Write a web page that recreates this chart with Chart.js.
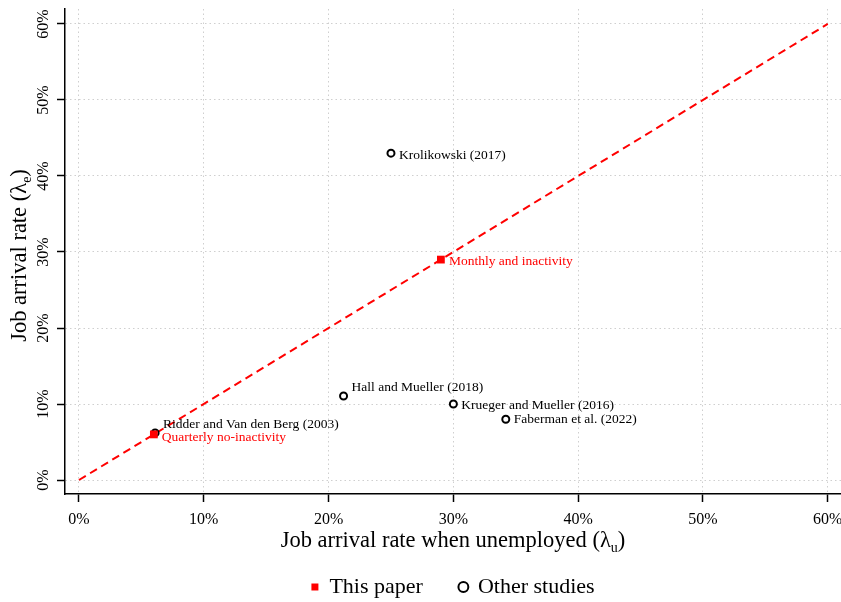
<!DOCTYPE html>
<html>
<head>
<meta charset="utf-8">
<script src="https://cdn.jsdelivr.net/npm/chart.js@4/dist/chart.umd.min.js"></script>
<style>
  html, body { margin: 0; padding: 0; background: #fff; overflow: hidden; }
  #wrap { width: 841px; height: 602px; }
</style>
</head>
<body>
<div id="wrap"><canvas id="chart"></canvas></div>
<script>
// values (percent)
const paperLabels = ['Monthly and inactivity', 'Quarterly no-inactivity'];
const paperX = [29, 6];
const paperY = [29, 6];

const otherLabels = ['Krolikowski (2017)', 'Hall and Mueller (2018)', 'Krueger and Mueller (2016)', 'Faberman et al. (2022)', 'Ridder and Van den Berg (2003)'];
const otherX = [25, 21.2, 30, 34.2, 6.1];
const otherY = [43, 11.05, 10, 8, 6.2];

const diagX = [0, 60];
const diagY = [0, 60];

const tickValues = [0, 10, 20, 30, 40, 50, 60];
const tickLabels = ['0%', '10%', '20%', '30%', '40%', '50%', '60%'];

// vertical nudge of each point label (px)
const paperShift = [2, 3];
const otherShift = [2, -9, 1, 0, -8];

const SERIF = "'Liberation Serif', 'Times New Roman', serif";

const toPoints = (xs, ys) => xs.map((x, i) => ({ x: x, y: ys[i] }));
const setTicks = scale => { scale.ticks = tickValues.map(v => ({ value: v })); };

// text labels next to the markers, tick labels, axis titles with subscripts
const annotations = {
    id: 'annotations',
    afterDatasetsDraw(chart) {
        const ctx = chart.ctx;
        ctx.save();
        ctx.font = '13.5px ' + SERIF;
        ctx.textAlign = 'left';
        ctx.textBaseline = 'middle';
        chart.data.datasets.forEach((ds, di) => {
            if (!ds.pointLabels) return;
            const meta = chart.getDatasetMeta(di);
            ctx.fillStyle = ds.labelColor;
            meta.data.forEach((pt, i) => {
                ctx.fillText(ds.pointLabels[i], pt.x + 8, pt.y + ds.labelShift[i]);
            });
        });
        ctx.restore();
    },
    afterDraw(chart) {
        const ctx = chart.ctx;
        const xs = chart.scales.x;
        const ys = chart.scales.y;
        const area = chart.chartArea;
        ctx.save();
        ctx.fillStyle = '#000';

        ctx.font = '16px ' + SERIF;
        ctx.textAlign = 'center';
        ctx.textBaseline = 'alphabetic';
        // x tick labels
        tickValues.forEach((v, i) => {
            ctx.fillText(tickLabels[i], xs.getPixelForValue(v), area.bottom + 30);
        });
        // y tick labels, rotated
        tickValues.forEach((v, i) => {
            ctx.save();
            ctx.translate(48, ys.getPixelForValue(v));
            ctx.rotate(-Math.PI / 2);
            ctx.fillText(tickLabels[i], 0, 0);
            ctx.restore();
        });

        const drawTitle = (main, sub, close) => {
            const big = '22.5px ' + SERIF;
            const small = '14px ' + SERIF;
            ctx.font = big;
            const w1 = ctx.measureText(main).width;
            const w3 = ctx.measureText(close).width;
            ctx.font = small;
            const w2 = ctx.measureText(sub).width;
            let x = -(w1 + w2 + w3) / 2;
            ctx.textAlign = 'left';
            ctx.font = big;
            ctx.fillText(main, x, 0);
            x += w1;
            ctx.font = small;
            ctx.fillText(sub, x, 5);
            x += w2;
            ctx.font = big;
            ctx.fillText(close, x, 0);
        };

        // x title
        ctx.save();
        ctx.translate((area.left + area.right) / 2, 547);
        drawTitle('Job arrival rate when unemployed (\u03bb', 'u', ')');
        ctx.restore();

        // y title
        ctx.save();
        ctx.translate(26, (area.top + area.bottom) / 2 + 4);
        ctx.rotate(-Math.PI / 2);
        drawTitle('Job arrival rate (\u03bb', 'e', ')');
        ctx.restore();

        ctx.restore();
    }
};

new Chart(document.getElementById('chart'), {
    type: 'scatter',
    data: {
        datasets: [
            {
                label: 'This paper',
                data: toPoints(paperX, paperY),
                pointStyle: 'rect',
                pointRadius: 5.5,
                backgroundColor: '#ff0000',
                borderColor: '#ff0000',
                borderWidth: 0,
                pointLabels: paperLabels,
                labelShift: paperShift,
                labelColor: '#ff0000',
                order: 0
            },
            {
                label: 'Other studies',
                data: toPoints(otherX, otherY),
                pointStyle: 'circle',
                pointRadius: 3.5,
                backgroundColor: '#ffffff',
                borderColor: '#000000',
                borderWidth: 2,
                pointLabels: otherLabels,
                labelShift: otherShift,
                labelColor: '#000000',
                order: 1
            },
            {
                label: '45 degree',
                data: toPoints(diagX, diagY),
                showLine: true,
                pointRadius: 0,
                borderColor: '#ff0000',
                borderWidth: 2,
                borderDash: [8, 5],
                order: 2
            }
        ]
    },
    options: {
        responsive: true,
        maintainAspectRatio: false,
        animation: false,
        layout: { autoPadding: false, padding: { left: 0, right: 0, top: 9, bottom: 0 } },
        scales: {
            x: {
                type: 'linear',
                min: -1.12,
                max: 61.06,
                afterBuildTicks: setTicks,
                afterFit: scale => { scale.height = 45; },
                grid: { color: '#cfcfcf', tickColor: '#000', tickLength: 8, tickWidth: 1.5, tickBorderDash: [] },
                border: { color: '#000', width: 1.5, dash: [1.5, 3] },
                ticks: { display: false }
            },
            y: {
                type: 'linear',
                min: -1.84,
                max: 61.97,
                afterBuildTicks: setTicks,
                afterFit: scale => { scale.width = 65; },
                grid: { color: '#cfcfcf', tickColor: '#000', tickLength: 8, tickWidth: 1.5, tickBorderDash: [] },
                border: { color: '#000', width: 1.5, dash: [1.5, 3] },
                ticks: { display: false }
            }
        },
        plugins: {
            tooltip: { enabled: false },
            legend: {
                position: 'bottom',
                fullSize: false,
                maxHeight: 63,
                labels: {
                    usePointStyle: true,
                    boxWidth: 7,
                    boxHeight: 7,
                    padding: 37,
                    color: '#000',
                    font: { family: SERIF, size: 22 },
                    filter: item => item.datasetIndex < 2
                }
            }
        }
    },
    plugins: [annotations]
});
</script>
</body>
</html>
